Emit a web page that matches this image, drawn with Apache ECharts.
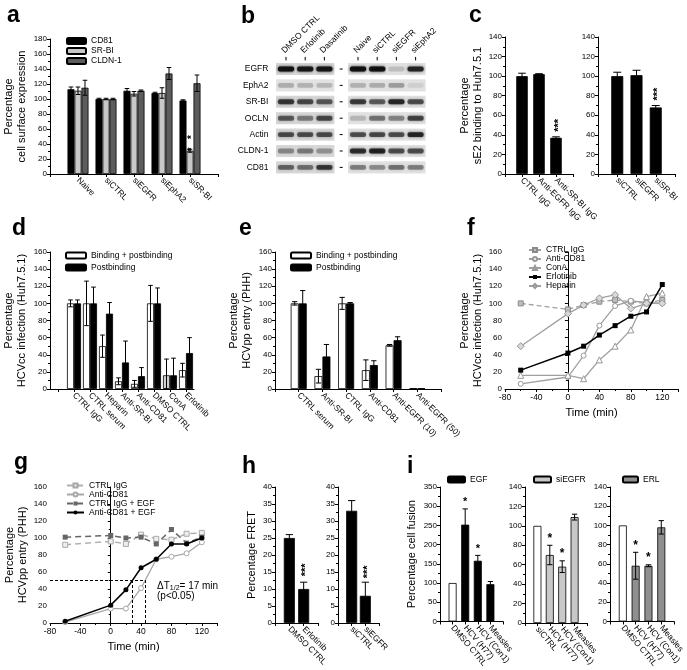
<!DOCTYPE html>
<html><head><meta charset="utf-8">
<script src="https://cdn.jsdelivr.net/npm/echarts@6/dist/echarts.min.js"></script>
<style>html,body{margin:0;padding:0;background:#fff}#c{width:687px;height:670px}</style>
</head><body><div id="c"></div>
<script>
// ================= DATA =================
// a
const aCats = ['Naive','siCTRL','siEGFR','siEphA2','siSR-BI'];
const aCD81 = [113,100,111,108,98];
const aCD81Err = [3,1,3,1,1];
const aSRBI = [111,100,107,108,31];
const aSRBIErr = [5,1,3,7,2];
const aCLDN = [115,100,111,134,121];
const aCLDNErr = [10,1,1,8,11];
const aSRBISig = ['','','','','*   *'];
// b (western blot band darkness, rows x lanes)
const bLanes = ['DMSO CTRL','Erlotinib','Dasatinib','Naive','siCTRL','siEGFR','siEphA2'];
const bRows = ['EGFR','EphA2','SR-BI','OCLN','Actin','CLDN-1','CD81'];
const bBands = [
  [0.95,0.90,0.92,0.97,0.97,0.15,0.80],
  [0.22,0.20,0.18,0.20,0.22,0.28,0.08],
  [0.70,0.62,0.55,0.68,0.55,0.78,0.60],
  [0.55,0.40,0.62,0.18,0.45,0.38,0.65],
  [0.60,0.60,0.60,0.60,0.62,0.60,0.80],
  [0.35,0.40,0.30,0.75,0.82,0.60,0.60],
  [0.50,0.45,0.70,0.40,0.35,0.45,0.40]
];
// c
const c1Cats = ['CTRL IgG','Anti-EGFR IgG','Anti-SR-BI IgG'];
const c1Vals = [100,102,37];
const c1Err = [3,0.5,1];
const c1Sig = ['','','***'];
const c2Cats = ['siCTRL','siEGFR','siSR-BI'];
const c2Vals = [100,101,68];
const c2Err = [4,5,2];
const c2Sig = ['','','***'];
// d
const dCats = ['CTRL IgG','CTRL serum','Heparin','Anti-SR-BI','Anti-CD81','DMSO CTRL','ConA','Erlotinib'];
const dBind = [100,100,50,9,6,100,16,22];
const dBindErr = [4,26,13,4,4,21,19,8];
const dPost = [100,100,88,31,15,100,16,42];
const dPostErr = [4,19,13,25,10,18,20,18];
// e
const eCats = ['CTRL serum','Anti-SR-BI','CTRL IgG','Anti-CD81','Anti-EGFR (10)','Anti-EGFR (50)'];
const eBind = [100,15,100,22,51,1];
const eBindErr = [2,8,7,12,1,0];
const ePost = [100,38,100,28,57,1];
const ePostErr = [15,14,1,5,4,0];
// f
const fTime = [-60,0,20,40,60,80,100,120];
const fCtrlIgG = [100,93,98,102,104,102,100,104];
const fAntiCD81 = [6,14,39,74,97,103,101,100];
const fConA = [16,16,12,34,50,69,108,112];
const fErlotinib = [22,42,50,63,74,85,90,122];
const fHeparin = [50,88,98,106,110,94,100,100];
// g
const gTime = [-60,0,20,40,60,80,100,120];
const gCtrlIgG = [92,96,93,104,99,98,105,106];
const gAntiCD81 = [1,17,17,41,75,78,82,95];
const gCtrlIgGEGF = [101,103,100,101,93,110,94,101];
const gAntiCD81EGF = [2,21,39,65,75,93,93,100];
const gHalfLevel = 50;
const gTHalf = [29,46];
// h
const h1Cats = ['DMSO CTRL','Erlotinib'];
const h1Vals = [25,10];
const h1Err = [1,2];
const h1Sig = ['','***'];
const h2Cats = ['siCTRL','siEGFR'];
const h2Vals = [33,8];
const h2Err = [3,4];
const h2Sig = ['','***'];
// i
const i1Cats = ['DMSO CTRL','HCV (H77)','HCV (Con1)','Measles'];
const i1Vals = [100,252,158,97];
const i1Err = [0,41,14,7];
const i1Sig = ['','*','*',''];
const i2Cats = ['siCTRL','HCV (H77)','HCV (Con1)','Measles'];
const i2Vals = [100,70,58,109];
const i2Err = [0,10,6,3];
const i2Sig = ['','*','*',''];
const i3Cats = ['DMSO CTRL','HCV (H77)','HCV (Con1)','Measles'];
const i3Vals = [100,58,58,98];
const i3Err = [0,14,1,7];
const i3Sig = ['','*','*',''];

// ================= BUILD =================
const FONT = '"Liberation Sans", Arial, Helvetica, sans-serif';
const grids = [], xAxis = [], yAxis = [], series = [], legend = [], title = [];
const AX = {color:'#000', width:1};

function grid(l,t,w,h){ grids.push({left:l, top:t, width:w, height:h}); return grids.length-1; }

function xCat(gi, cats, mode, rot){
  const data = mode === 'P' ? [' ', ...cats, '  '] : [' ', ...cats];
  xAxis.push({type:'category', gridIndex:gi, data:data, boundaryGap: mode !== 'P',
    axisLine:{show:true, onZero:false, lineStyle:AX},
    axisTick:{show:true, length:3, alignWithLabel:true, lineStyle:AX},
    axisLabel:{interval:0, rotate:rot, fontSize:8.5, color:'#000', fontFamily:FONT, margin:5},
    splitLine:{show:false}});
  return xAxis.length-1;
}
function yVal(gi, max, interval, name, gap){
  yAxis.push({type:'value', gridIndex:gi, min:0, max:max, interval:interval,
    axisLine:{show:true, lineStyle:AX},
    axisTick:{show:true, length:3, lineStyle:AX},
    minorTick:{show:true, splitNumber:2, length:2, lineStyle:AX},
    splitLine:{show:false}, minorSplitLine:{show:false},
    axisLabel:{fontSize:8, color:'#000', fontFamily:FONT, margin:3},
    name:name, nameLocation:'middle', nameGap:gap, nameRotate:90,
    nameTextStyle:{fontSize:11, color:'#000', fontFamily:FONT, lineHeight:13}});
  return yAxis.length-1;
}
function xTime(gi){
  xAxis.push({type:'value', gridIndex:gi, min:-80, max:140, interval:40,
    axisLine:{show:true, onZero:false, lineStyle:AX},
    axisTick:{show:true, length:3, lineStyle:AX},
    minorTick:{show:true, splitNumber:2, length:2, lineStyle:AX},
    splitLine:{show:false},
    axisLabel:{fontSize:8.5, color:'#000', fontFamily:FONT, margin:4, formatter:function(v){return v>120?'':String(v);}},
    name:'Time (min)', nameLocation:'middle', nameGap:18,
    nameTextStyle:{fontSize:11, color:'#000', fontFamily:FONT}});
  return xAxis.length-1;
}
function bars(name, xi, yi, cats, vals, color, bw, overrides){
  return {type:'bar', name:name, xAxisIndex:xi, yAxisIndex:yi, barWidth:bw, barGap:'0%',
    data: cats.map(function(c,i){ const d = {value:[c, vals[i]]}; if (overrides && overrides[i]) d.itemStyle = {color:overrides[i]}; return d; }),
    itemStyle:{color:color, borderColor:'#000', borderWidth:0.8}, animation:false, silent:true};
}
function errs(xi, yi, cats, vals, err, k, n, bw, sig, cfg){
  cfg = cfg || {};
  return {type:'custom', xAxisIndex:xi, yAxisIndex:yi, silent:true, animation:false, z:5,
    data: cats.map(function(c,i){ return [c, vals[i], err[i], i]; }),
    renderItem:function(params, api){
      const cat = api.value(0), v = api.value(1), e = api.value(2), i = api.value(3);
      const p = api.coord([cat, v]);
      const x = p[0] + (k - (n-1)/2) * bw;
      const yT = api.coord([cat, v + e])[1];
      const yB = api.coord([cat, Math.max(0, v - e)])[1];
      const cw = Math.max(2, bw * 0.33);
      const ls = {stroke:'#000', lineWidth:1};
      const ch = [];
      if (e > 0) {
        ch.push({type:'line', shape:{x1:x, y1:yT, x2:x, y2:yB}, style:ls});
        ch.push({type:'line', shape:{x1:x-cw, y1:yT, x2:x+cw, y2:yT}, style:ls});
        ch.push({type:'line', shape:{x1:x-cw, y1:yB, x2:x+cw, y2:yB}, style:ls});
      }
      const s = sig ? sig[i] : '';
      if (s) {
        if (cfg.rotate) {
          ch.push({type:'text', x:x + 2.5, y:yT - (cfg.gap || 4), rotation:Math.PI/2,
            style:{text:s, fill:'#000', fontSize:cfg.size || 9, fontFamily:FONT, fontWeight:'bold', align:'left', verticalAlign:'middle'}});
        } else {
          ch.push({type:'text', x:x, y:yT - (cfg.gap || 1),
            style:{text:s, fill:'#000', fontSize:cfg.size || 11, fontFamily:FONT, fontWeight:'bold', align:'center', verticalAlign:'bottom'}});
        }
      }
      return {type:'group', children:ch};
    }};
}
function leg(l, t, names, iw, ih, lh, gap){
  legend.push({left:l, top:t, orient:'vertical', padding:0, itemWidth:iw, itemHeight:ih, itemGap:gap,
    selectedMode:false, data:names,
    textStyle:{fontSize:8.5, fontFamily:FONT, color:'#000', lineHeight:lh}});
}
function letter(t, l, tp){
  title.push({text:t, left:l, top:tp, padding:0, textStyle:{fontSize:23, fontWeight:'bold', color:'#000', fontFamily:FONT}});
}

// ---- panel a ----
letter('a', 7, 4);
{
  const gi = grid(50, 39, 168, 135);
  const xi = xCat(gi, aCats, 'P', -45);
  const yi = yVal(gi, 180, 20, 'Percentage\ncell surface expression', 22);
  const bw = 7;
  series.push(bars('CD81', xi, yi, aCats, aCD81, '#000', bw));
  series.push(bars('SR-BI', xi, yi, aCats, aSRBI, '#c8c8c8', bw));
  series.push(bars('CLDN-1', xi, yi, aCats, aCLDN, '#5c5c5c', bw));
  series.push(errs(xi, yi, aCats, aCD81, aCD81Err, 0, 3, bw));
  series.push(errs(xi, yi, aCats, aSRBI, aSRBIErr, 1, 3, bw, aSRBISig, {rotate:true, gap:-2, size:10}));
  series.push(errs(xi, yi, aCats, aCLDN, aCLDNErr, 2, 3, bw));
  leg(66, 36.5, ['CD81','SR-BI','CLDN-1'], 19, 6, 7, 1);
}

// ---- panel b (western blot) ----
letter('b', 241, 5);
{
  const gi = grid(276.4, 60.8, 148.8, 114.8);
  xAxis.push({type:'value', gridIndex:gi, min:-0.5, max:7.25, show:false});
  yAxis.push({type:'category', gridIndex:gi, data:bRows, inverse:true,
    axisLine:{show:false}, splitLine:{show:false},
    axisTick:{show:true, length:3, alignWithLabel:true, lineStyle:AX},
    axisLabel:{fontSize:8.5, color:'#000', fontFamily:FONT, margin:8}});
  const xi = xAxis.length-1, yi = yAxis.length-1;
  const data = [];
  bRows.forEach(function(r, ri){
    bLanes.forEach(function(l, li){
      data.push([li + (li >= 3 ? 0.75 : 0), r, bBands[ri][li], li, ri]);
    });
  });
  series.push({type:'custom', xAxisIndex:xi, yAxisIndex:yi, silent:true, animation:false, data:data,
    renderItem:function(params, api){
      const x = api.value(0), r = api.value(1), inten = api.value(2), lane = api.value(3), row = api.value(4);
      const c = api.coord([x, r]);
      const sw = api.size([1, 0])[0];
      const rh = api.size([0, 1])[1];
      const bg = lane < 3 ? (row === 1 ? '#e2e2e2' : '#d7d7d7') : '#e1e1e1';
      const top = c[1] - rh * 0.37;
      const ch = [
        {type:'rect', shape:{x:c[0]-sw/2-0.4, y:top, width:sw+0.8, height:rh*0.74}, style:{fill:bg}},
        {type:'rect', shape:{x:c[0]-sw*0.42, y:c[1]-rh*0.15, width:sw*0.84, height:rh*0.3, r:2},
          style:{fill:'rgba(15,15,15,'+inten+')', shadowBlur:3, shadowColor:'rgba(15,15,15,'+inten+')'}}
      ];
      if (row === 0) {
        ch.push({type:'line', shape:{x1:c[0], y1:top-6, x2:c[0], y2:top-2.5}, style:{stroke:'#000', lineWidth:1}});
        ch.push({type:'text', x:c[0]-3, y:top-11, rotation:Math.PI/4,
          style:{text:bLanes[lane], fill:'#000', fontSize:8.5, fontFamily:FONT, align:'left', verticalAlign:'middle'}});
      }
      if (lane === 2) {
        const m = api.coord([2.875, r]);
        ch.push({type:'line', shape:{x1:m[0]-1.5, y1:m[1], x2:m[0]+1.5, y2:m[1]}, style:{stroke:'#000', lineWidth:1}});
      }
      return {type:'group', children:ch};
    }});
}

// ---- panel c ----
letter('c', 469, 4);
{
  const g1 = grid(505, 37, 68, 137);
  const x1 = xCat(g1, c1Cats, 'P', -45);
  const y1 = yVal(g1, 140, 20, 'Percentage\nsE2 binding to Huh7.5.1', 20);
  series.push(bars('c1', x1, y1, c1Cats, c1Vals, '#000', 11.5));
  series.push(errs(x1, y1, c1Cats, c1Vals, c1Err, 0, 1, 11.5, c1Sig, {rotate:true, gap:5, size:11}));
  const g2 = grid(598, 37, 77, 137);
  const x2 = xCat(g2, c2Cats, 'P', -45);
  const y2 = yVal(g2, 140, 20, '', 20);
  series.push(bars('c2', x2, y2, c2Cats, c2Vals, '#000', 12));
  series.push(errs(x2, y2, c2Cats, c2Vals, c2Err, 0, 1, 12, c2Sig, {rotate:true, gap:5, size:11}));
}

// ---- panel d ----
letter('d', 12, 217);
{
  const gi = grid(50, 252, 144, 137);
  const xi = xCat(gi, dCats, 'Q', -45);
  const yi = yVal(gi, 160, 20, 'Percentage\nHCVcc infection (Huh7.5.1)', 22);
  const bw = 7;
  series.push(bars('Binding + postbinding', xi, yi, dCats, dBind, '#fff', bw, [null,null,null,null,null,null,'#d0d0d0',null]));
  series.push(bars('Postbinding', xi, yi, dCats, dPost, '#000', bw));
  series.push(errs(xi, yi, dCats, dBind, dBindErr, 0, 2, bw));
  series.push(errs(xi, yi, dCats, dPost, dPostErr, 1, 2, bw));
  leg(65, 251, ['Binding + postbinding','Postbinding'], 20, 6, 7, 3);
}

// ---- panel e ----
letter('e', 239, 217);
{
  const gi = grid(275, 252, 166, 137);
  const xi = xCat(gi, eCats, 'P', -45);
  const yi = yVal(gi, 160, 20, 'Percentage\nHCVpp entry (PHH)', 22);
  const bw = 8;
  series.push(bars('Binding + postbinding ', xi, yi, eCats, eBind, '#fff', bw));
  series.push(bars('Postbinding ', xi, yi, eCats, ePost, '#000', bw));
  series.push(errs(xi, yi, eCats, eBind, eBindErr, 0, 2, bw));
  series.push(errs(xi, yi, eCats, ePost, ePostErr, 1, 2, bw));
  leg(290, 251, ['Binding + postbinding ','Postbinding '], 20, 6, 7, 3);
}

// ---- panel f ----
letter('f', 467, 217);
{
  const gi = grid(505, 252, 173, 137);
  const xi = xTime(gi);
  const yi = yVal(gi, 160, 20, 'Percentage\nHCVcc infection (Huh7.5.1)', 20);
  const mk = function(name, vals, sym, size, item, line, z){
    return {type:'line', name:name, xAxisIndex:xi, yAxisIndex:yi, data: fTime.map(function(t,i){return [t, vals[i]];}),
      symbol:sym, symbolSize:size, itemStyle:item, lineStyle:line, animation:false, silent:true, z:z || 2};
  };
  series.push(mk('CTRL IgG', fCtrlIgG, 'rect', 5, {color:'#bdbdbd', borderColor:'#8a8a8a', borderWidth:1}, {color:'#a0a0a0', width:1.3, type:[5,3]}));
  series.push(mk('Anti-CD81', fAntiCD81, 'circle', 5, {color:'#fff', borderColor:'#999', borderWidth:1}, {color:'#a0a0a0', width:1.3}));
  series.push(mk('ConA', fConA, 'triangle', 6, {color:'#fff', borderColor:'#999', borderWidth:1}, {color:'#a0a0a0', width:1.3}));
  series.push(mk('Erlotinib', fErlotinib, 'rect', 5, {color:'#000'}, {color:'#000', width:1.5}, 4));
  series.push(mk('Heparin', fHeparin, 'diamond', 7, {color:'#d8d8d8', borderColor:'#999', borderWidth:1}, {color:'#a0a0a0', width:1.3}));
  leg(528, 245.5, ['CTRL IgG','Anti-CD81','ConA','Erlotinib','Heparin'], 12, 5, 6.8, 0);
}

// ---- panel g ----
letter('g', 14, 451);
{
  const gi = grid(50, 487, 167, 136);
  const xi = xTime(gi);
  const yi = yVal(gi, 160, 20, 'Percentage\nHCVpp entry (PHH)', 20);
  const mk = function(name, vals, sym, size, item, line, z){
    return {type:'line', name:name, xAxisIndex:xi, yAxisIndex:yi, data: gTime.map(function(t,i){return [t, vals[i]];}),
      symbol:sym, symbolSize:size, itemStyle:item, lineStyle:line, animation:false, silent:true, z:z || 2};
  };
  series.push(mk('CTRL IgG ', gCtrlIgG, 'rect', 5, {color:'#eeeeee', borderColor:'#a8a8a8', borderWidth:1}, {color:'#b0b0b0', width:1.5, type:[6,4]}));
  series.push(mk('Anti-CD81 ', gAntiCD81, 'circle', 5, {color:'#fff', borderColor:'#a8a8a8', borderWidth:1}, {color:'#a8a8a8', width:1.3}));
  series.push(mk('CTRL IgG + EGF', gCtrlIgGEGF, 'rect', 5, {color:'#666'}, {color:'#666', width:1.5, type:[6,4]}));
  const s4 = mk('Anti-CD81 + EGF', gAntiCD81EGF, 'circle', 5, {color:'#000'}, {color:'#000', width:1.5}, 4);
  s4.markLine = {silent:true, symbol:'none', animation:false, label:{show:false},
    lineStyle:{color:'#000', type:[3,2], width:1},
    data:[
      [{coord:[-80, gHalfLevel]}, {coord:[gTHalf[1], gHalfLevel]}],
      [{coord:[gTHalf[0], 0]}, {coord:[gTHalf[0], gHalfLevel]}],
      [{coord:[gTHalf[1], 0]}, {coord:[gTHalf[1], gHalfLevel]}]
    ]};
  series.push(s4);
  leg(66, 481, ['CTRL IgG ','Anti-CD81 ','CTRL IgG + EGF','Anti-CD81 + EGF'], 17, 5, 8.7, 0);
}

// ---- panel h ----
letter('h', 242, 455);
{
  const g1 = grid(275, 487, 43, 136);
  const x1 = xCat(g1, h1Cats, 'P', -45);
  const y1 = yVal(g1, 40, 5, 'Percentage FRET', 17);
  series.push(bars('h1', x1, y1, h1Cats, h1Vals, '#000', 11));
  series.push(errs(x1, y1, h1Cats, h1Vals, h1Err, 0, 1, 11, h1Sig, {rotate:true, gap:6, size:11}));
  const g2 = grid(338, 487, 41, 136);
  const x2 = xCat(g2, h2Cats, 'P', -45);
  const y2 = yVal(g2, 40, 5, '', 17);
  series.push(bars('h2', x2, y2, h2Cats, h2Vals, '#000', 11));
  series.push(errs(x2, y2, h2Cats, h2Vals, h2Err, 0, 1, 11, h2Sig, {rotate:true, gap:4, size:11}));
}

// ---- panel i ----
letter('i', 407, 455);
{
  const bw = 8;
  const g1 = grid(440, 487, 63, 136);
  const x1 = xCat(g1, i1Cats, 'P', -50);
  const y1 = yVal(g1, 350, 50, 'Percentage cell fusion', 22);
  series.push(bars('EGF', x1, y1, i1Cats, i1Vals, '#000', bw, ['#fff']));
  series.push(errs(x1, y1, i1Cats, i1Vals, i1Err, 0, 1, bw, i1Sig, {gap:0, size:11}));
  leg(447, 475, ['EGF'], 17, 6, 7, 0);
  const g2 = grid(525, 487, 62, 136);
  const x2 = xCat(g2, i2Cats, 'P', -50);
  const y2 = yVal(g2, 140, 20, '', 20);
  series.push(bars('siEGFR', x2, y2, i2Cats, i2Vals, '#c8c8c8', bw, ['#fff']));
  series.push(errs(x2, y2, i2Cats, i2Vals, i2Err, 0, 1, bw, i2Sig, {gap:0, size:12}));
  leg(533, 475, ['siEGFR'], 17, 6, 7, 0);
  const g3 = grid(610, 487, 70, 136);
  const x3 = xCat(g3, i3Cats, 'P', -50);
  const y3 = yVal(g3, 140, 20, '', 20);
  series.push(bars('ERL', x3, y3, i3Cats, i3Vals, '#8f8f8f', bw, ['#fff']));
  series.push(errs(x3, y3, i3Cats, i3Vals, i3Err, 0, 1, bw, i3Sig, {gap:0, size:12}));
  leg(622, 475, ['ERL'], 15, 6, 7, 0);
}

const chart = echarts.init(document.getElementById('c'), null, {renderer:'canvas'});
chart.setOption({
  animation:false,
  backgroundColor:'#fff',
  textStyle:{fontFamily:FONT},
  title:title, grid:grids, xAxis:xAxis, yAxis:yAxis, legend:legend, series:series,
  graphic:[{type:'text', left:157, top:581, silent:true,
    style:{text:'{a|ΔT}{s|1/2}{a|= 17 min}\n{a|(p<0.05)}', fill:'#000', fontFamily:FONT, fontSize:10, lineHeight:10,
      rich:{a:{fontSize:10, fontFamily:FONT, lineHeight:10}, s:{fontSize:7, fontFamily:FONT, padding:[4,0,0,0], lineHeight:10}}}}]
});
</script></body></html>
